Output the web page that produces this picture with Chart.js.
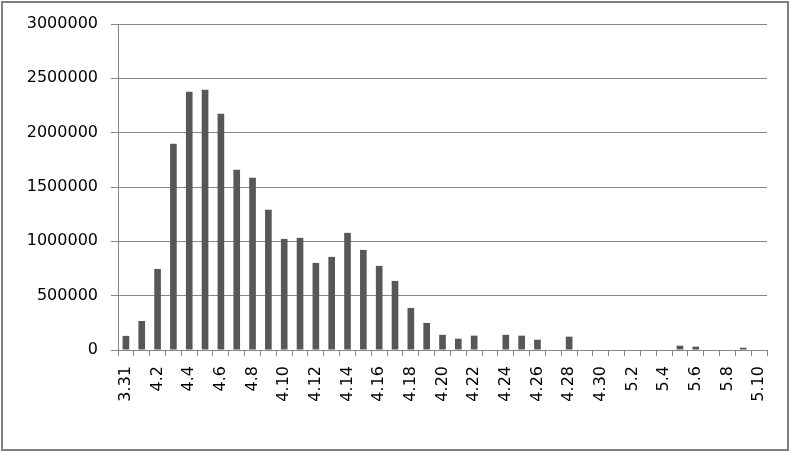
<!DOCTYPE html>
<html>
<head>
<meta charset="utf-8">
<script src="https://cdn.jsdelivr.net/npm/chart.js@4/dist/chart.umd.min.js"></script>
<style>
  html, body { margin: 0; padding: 0; background: #fff; }
  #wrap { position: relative; width: 790px; height: 452px; }
  #frame { position: absolute; left: 1px; top: 1px; width: 784px; height: 446px; border: 2px solid #7f7f7f; pointer-events: none; }
  canvas { position: absolute; left: 0; top: 0; }
</style>
</head>
<body>
<div id="wrap">
  <canvas id="c" width="790" height="452"></canvas>
  <div id="frame"></div>
</div>
<script>
const categories = [
  '3.31',
  '4.1','4.2','4.3','4.4','4.5','4.6','4.7','4.8','4.9','4.10',
  '4.11','4.12','4.13','4.14','4.15','4.16','4.17','4.18','4.19','4.20',
  '4.21','4.22','4.23','4.24','4.25','4.26','4.27','4.28','4.29','4.30',
  '5.1','5.2','5.3','5.4','5.5','5.6','5.7','5.8','5.9','5.10'
];
const values = [
  130000,
  267000, 746000, 1898000, 2377000, 2395000, 2174000, 1658000, 1584000, 1290000, 1022000,
  1032000, 801000, 857000, 1078000, 921000, 774000, 636000, 387000, 249000, 140000,
  104000, 132000, 0, 140000, 132000, 95000, 0, 123000, 0, 0,
  0, 0, 0, 0, 40000, 31000, 0, 0, 21000, 0
];
const yTicks = [0, 500000, 1000000, 1500000, 2000000, 2500000, 3000000];

const gridColor = '#868686';
const font = { family: 'DejaVu Sans', size: 16 };

new Chart(document.getElementById('c'), {
  type: 'bar',
  data: {
    labels: categories,
    datasets: [{
      data: values,
      backgroundColor: '#575757',
      borderWidth: 0,
      categoryPercentage: 1,
      barPercentage: 0.42
    }]
  },
  options: {
    responsive: false,
    animation: false,
    devicePixelRatio: 1,
    layout: { padding: { top: 24, right: 23, left: 0, bottom: 0 } },
    plugins: { legend: { display: false }, tooltip: { enabled: false } },
    scales: {
      x: {
        grid: { drawOnChartArea: false, drawTicks: true, tickLength: 6, color: gridColor, offset: true },
        border: { display: true, color: gridColor, width: 1 },
        ticks: {
          autoSkip: false,
          maxRotation: 90,
          minRotation: 90,
          padding: 10,
          color: '#000',
          font: font,
          callback: function(v, i) { return i % 2 === 0 ? categories[i] : ''; }
        },
        afterFit: function(s) { s.height = 102; }
      },
      y: {
        min: 0,
        max: 3000000,
        afterBuildTicks: function(s) { s.ticks = yTicks.map(v => ({ value: v })); },
        grid: { color: gridColor, drawTicks: true, tickLength: 7, lineWidth: 1 },
        border: { display: true, color: gridColor, width: 1 },
        ticks: {
          padding: 13,
          color: '#000',
          font: font,
          callback: function(v) { return String(v); }
        },
        afterFit: function(s) { s.width = 118; }
      }
    }
  }
});
</script>
</body>
</html>
